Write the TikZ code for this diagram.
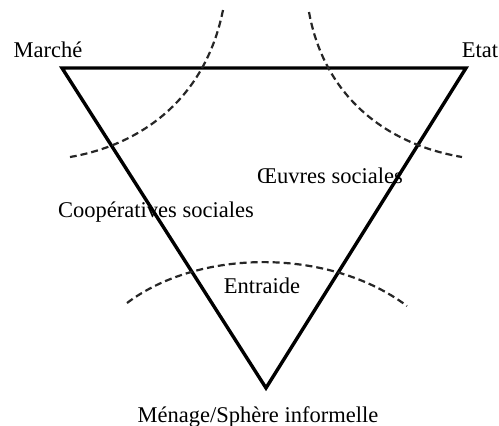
\documentclass[tikz,border=0pt]{standalone}
\usepackage{fontspec}
\setmainfont{Liberation Serif}
\begin{document}
\begin{tikzpicture}[x=1pt,y=-1pt,
  lbl/.style={anchor=base,inner sep=0pt,font=\fontsize{22.5}{24}\selectfont},
  tri/.style={line width=3.4pt,line join=miter},
  arcline/.style={line width=2.2pt,draw=black!85,dash pattern=on 7pt off 4pt}]
\useasboundingbox[fill=white] (0,0) rectangle (499,426);
\coordinate (M) at (62,68);
\coordinate (E) at (466,68);
\coordinate (H) at (266,388);
\draw[tri] (M) -- (E) -- (H) -- cycle;
\coordinate (a1) at (223,10);
\coordinate (a2) at (70,157);
\draw[arcline] (a1) .. controls (205,100) and (140,145) .. (a2);
\coordinate (b1) at (309,12);
\coordinate (b2) at (462,157);
\draw[arcline] (b1) .. controls (325,100) and (390,145) .. (b2);
\coordinate (c1) at (127,303);
\coordinate (c2) at (407,306);
\draw[arcline] (c1) .. controls (200,248) and (330,248) .. (c2);
\node[lbl] (marche) at (48,57) {Marché};
\node[lbl] (etat) at (480,57) {Etat};
\node[lbl] (oeuvres) at (330,183) {Œuvres sociales};
\node[lbl] (coop) at (156,217) {Coopératives sociales};
\node[lbl] (entraide) at (262,293) {Entraide};
\node[lbl] (menage) at (258,422) {Ménage/Sphère informelle};
\end{tikzpicture}
\end{document}
